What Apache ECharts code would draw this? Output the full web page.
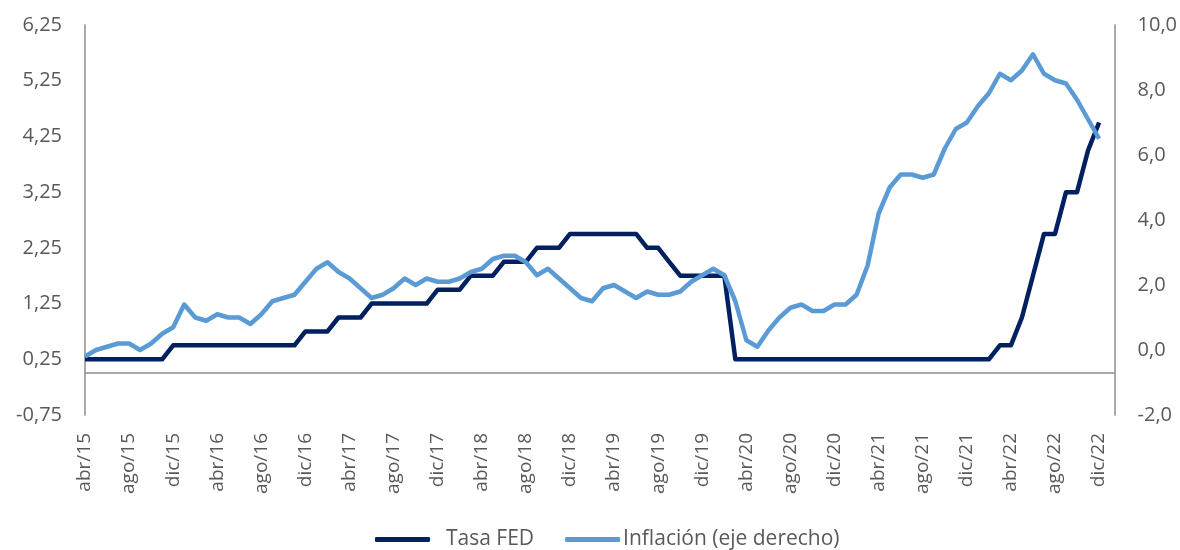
<!DOCTYPE html>
<html>
<head>
<meta charset="utf-8">
<script src="https://cdn.jsdelivr.net/npm/echarts@6/dist/echarts.min.js"></script>
<style>
  html, body { margin: 0; padding: 0; background: #fff; }
  #chart { width: 1180px; height: 550px; }
</style>
</head>
<body>
<div id="chart"></div>
<script>
// meses abr/15 .. dic/22
const monthNames = ['ene', 'feb', 'mar', 'abr', 'may', 'jun', 'jul', 'ago', 'sep', 'oct', 'nov', 'dic'];
const months = [];
for (let y = 2015; y <= 2022; y++) {
  for (let m = 0; m < 12; m++) {
    if (y === 2015 && m < 3) continue;
    months.push(monthNames[m] + '/' + String(y).slice(2));
  }
}

// Tasa FED (eje izquierdo)
const fedRate = [
  0.25, 0.25, 0.25, 0.25, 0.25, 0.25, 0.25, 0.25, 0.5,
  0.5, 0.5, 0.5, 0.5, 0.5, 0.5, 0.5, 0.5, 0.5, 0.5, 0.5, 0.75,
  0.75, 0.75, 1.0, 1.0, 1.0, 1.25, 1.25, 1.25, 1.25, 1.25, 1.25, 1.5,
  1.5, 1.5, 1.75, 1.75, 1.75, 2.0, 2.0, 2.0, 2.25, 2.25, 2.25, 2.5,
  2.5, 2.5, 2.5, 2.5, 2.5, 2.5, 2.25, 2.25, 2.0, 1.75, 1.75, 1.75,
  1.75, 1.75, 0.25, 0.25, 0.25, 0.25, 0.25, 0.25, 0.25, 0.25, 0.25, 0.25,
  0.25, 0.25, 0.25, 0.25, 0.25, 0.25, 0.25, 0.25, 0.25, 0.25, 0.25, 0.25,
  0.25, 0.25, 0.5, 0.5, 1.0, 1.75, 2.5, 2.5, 3.25, 3.25, 4.0, 4.5
];

// Inflacion (eje derecho)
const inflation = [
  -0.2, 0.0, 0.1, 0.2, 0.2, 0.0, 0.2, 0.5, 0.7,
  1.4, 1.0, 0.9, 1.1, 1.0, 1.0, 0.8, 1.1, 1.5, 1.6, 1.7, 2.1,
  2.5, 2.7, 2.4, 2.2, 1.9, 1.6, 1.7, 1.9, 2.2, 2.0, 2.2, 2.1,
  2.1, 2.2, 2.4, 2.5, 2.8, 2.9, 2.9, 2.7, 2.3, 2.5, 2.2, 1.9,
  1.6, 1.5, 1.9, 2.0, 1.8, 1.6, 1.8, 1.7, 1.7, 1.8, 2.1, 2.3,
  2.5, 2.3, 1.5, 0.3, 0.1, 0.6, 1.0, 1.3, 1.4, 1.2, 1.2, 1.4,
  1.4, 1.7, 2.6, 4.2, 5.0, 5.4, 5.4, 5.3, 5.4, 6.2, 6.8, 7.0,
  7.5, 7.9, 8.5, 8.3, 8.6, 9.1, 8.5, 8.3, 8.2, 7.7, 7.1, 6.5
];

const textColor = '#595959';
const axisColor = '#8c8c8c';
const font = '"Open Sans", "Noto Sans", sans-serif';

const chart = echarts.init(document.getElementById('chart'), null, { renderer: 'canvas' });

chart.setOption({
  animation: false,
  textStyle: { fontFamily: font },
  grid: { left: 85, right: 65, top: 25, bottom: 135, containLabel: false },
  legend: {
    top: 524,
    left: 370,
    itemWidth: 55,
    itemHeight: 5,
    itemGap: 31,
    icon: 'roundRect',
    textStyle: { color: textColor, fontSize: 21, fontFamily: font },
    data: [
      { name: 'Tasa FED', textStyle: { padding: [0, 0, 0, 11] } },
      { name: 'Inflación (eje derecho)', textStyle: { padding: [0, 0, 0, -2] } }
    ]
  },
  xAxis: {
    type: 'value',
    min: 0,
    max: 93.4,
    interval: 4,
    axisLine: { show: false },
    axisTick: { show: false },
    splitLine: { show: false },
    axisLabel: {
      rotate: 90,
      margin: 18,
      color: textColor,
      fontSize: 19,
      fontFamily: font,
      showMaxLabel: false,
      formatter: function (v) {
        return months[v] || '';
      }
    }
  },
  yAxis: [
    {
      type: 'value',
      min: -0.75,
      max: 6.25,
      interval: 1,
      position: 'left',
      axisLine: { show: true, lineStyle: { color: axisColor, width: 1.5 } },
      axisTick: { show: false },
      splitLine: { show: false },
      axisLabel: {
        margin: 23,
        color: textColor,
        fontSize: 20,
        fontFamily: font,
        formatter: function (v) { return v.toFixed(2).replace('.', ','); }
      }
    },
    {
      type: 'value',
      min: -2,
      max: 10,
      interval: 2,
      position: 'right',
      axisLine: { show: true, lineStyle: { color: axisColor, width: 1.5 } },
      axisTick: { show: false },
      splitLine: { show: false },
      axisLabel: {
        margin: 23,
        color: textColor,
        fontSize: 20,
        fontFamily: font,
        formatter: function (v) { return v.toFixed(1).replace('.', ','); }
      }
    }
  ],
  series: [
    {
      name: 'Tasa FED',
      type: 'line',
      yAxisIndex: 0,
      symbol: 'none',
      color: '#002060',
      lineStyle: { width: 4.5, color: '#002060', join: 'round' },
      data: fedRate.map(function (v, i) { return [i, v]; }),
      markLine: {
        silent: true,
        symbol: 'none',
        label: { show: false },
        lineStyle: { color: axisColor, width: 1.5, type: 'solid' },
        data: [{ yAxis: 0 }]
      }
    },
    {
      name: 'Inflación (eje derecho)',
      type: 'line',
      yAxisIndex: 1,
      symbol: 'none',
      color: '#5b9bd5',
      lineStyle: { width: 4.5, color: '#5b9bd5', join: 'round' },
      data: inflation.map(function (v, i) { return [i, v]; })
    }
  ]
});
</script>
</body>
</html>
